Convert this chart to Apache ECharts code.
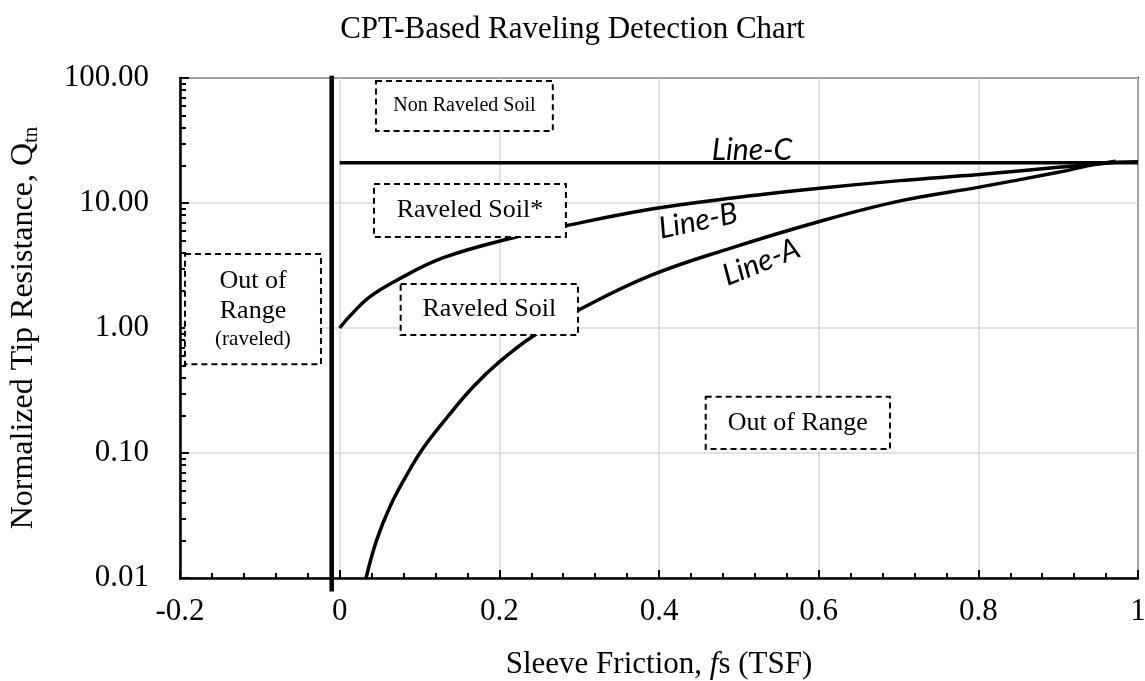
<!DOCTYPE html>
<html>
<head>
<meta charset="utf-8">
<script src="https://cdn.jsdelivr.net/npm/echarts@6/dist/echarts.min.js"></script>
<style>
  html, body { margin: 0; padding: 0; background: #ffffff; }
  #chart { width: 1145px; height: 681px; }
</style>
</head>
<body>
<div id="chart"></div>
<script>
// Boundary curves: [sleeve friction fs (TSF), normalized tip resistance Qtn]
const lineA = [
  [0.033, 0.010], [0.0463, 0.0201], [0.063, 0.0372], [0.084, 0.0667], [0.1047, 0.1096],
  [0.134, 0.1905], [0.167, 0.337], [0.200, 0.535], [0.2425, 0.863], [0.299, 1.39],
  [0.389, 2.62], [0.489, 4.34], [0.601, 7.12], [0.702, 10.4], [0.801, 13.4],
  [0.900, 17.6], [0.952, 20.6], [1.000, 21.4]
];
const lineB = [
  [0.000, 1.00], [0.013, 1.25], [0.038, 1.78], [0.072, 2.42], [0.130, 3.65],
  [0.222, 5.37], [0.282, 6.55], [0.389, 8.90], [0.489, 10.9], [0.601, 13.1],
  [0.702, 15.1], [0.801, 16.9], [0.900, 19.3], [0.950, 20.6], [0.972, 21.6]
];
const lineC = [[0.0, 21.0], [1.0, 21.0]];
// Vertical limit just left of fs = 0, running slightly past the frame
const fsLimit = [[-0.01, 0.0078], [-0.01, 104]];

// Axis ranges and tick labels
const xMin = -0.2, xMax = 1.0, xStep = 0.2;
const yMin = 0.01, yMax = 100;
const yMinorTicks = [];
[0.01, 0.1, 1, 10].forEach(d => { for (let k = 2; k <= 9; k++) yMinorTicks.push(+(d * k).toPrecision(3)); });

// Zone annotations: label text and the data box they sit in [x0, x1, y0, y1]
const zoneLabels = ['Non Raveled Soil', 'Raveled Soil*', 'Raveled Soil', 'Out of Range', 'Out of\nRange\n{s|(raveled)}'];
const zoneBoxes = [
  [0.0455, 0.267, 37.7, 94.6],
  [0.043, 0.2834, 5.35, 14.2],
  [0.0764, 0.2985, 0.879, 2.25],
  [0.4585, 0.6893, 0.1076, 0.282],
  [-0.1938, -0.0234, 0.512, 3.91]
];
const zoneFontSize = [20, 26, 26, 26, 26];
// Curve names: text, anchor [fs, Qtn], tilt in degrees
const curveLabels = ['Line-C', 'Line-B', 'Line-A'];
const curveLabelAnchors = [[0.5165, 26.5], [0.449, 7.18], [0.528, 3.37]];
const curveLabelTilt = [0, 12, 22];

const SERIF = '"Liberation Serif", "Times New Roman", serif';
const chart = echarts.init(document.getElementById('chart'));

const lineStyleOf = w => ({ color: '#000', width: w });

chart.setOption({
  animation: false,
  backgroundColor: '#fff',
  title: {
    text: 'CPT-Based Raveling Detection Chart',
    left: 'center',
    top: 9,
    textStyle: { fontFamily: SERIF, fontSize: 31, fontWeight: 'normal', color: '#000' }
  },
  grid: {
    left: 180, right: 7, top: 78, bottom: 103,
    outerBoundsMode: 'none', containLabel: false,
    show: true, borderColor: '#000', borderWidth: 2, backgroundColor: 'transparent'
  },
  xAxis: {
    type: 'value', min: xMin, max: xMax, interval: xStep,
    name: 'Sleeve Friction, {i|f}s (TSF)',
    nameLocation: 'middle', nameGap: 71,
    nameTextStyle: {
      fontFamily: SERIF, fontSize: 31, color: '#000',
      rich: { i: { fontFamily: SERIF, fontSize: 31, fontStyle: 'italic', color: '#000' } }
    },
    axisLine: { show: true, onZero: false, lineStyle: { color: '#000', width: 2.5 } },
    axisTick: { show: true, inside: true, length: 8, lineStyle: { color: '#000', width: 2 } },
    minorTick: { show: true, splitNumber: 5, length: 5, lineStyle: { color: '#000', width: 2 } },
    axisLabel: {
      margin: 18, fontFamily: SERIF, fontSize: 31, color: '#000',
      formatter: v => String(+v.toFixed(1))
    },
    splitLine: { show: true, lineStyle: { color: '#d9d9d9', width: 1.5 } }
  },
  yAxis: [{
    type: 'log', logBase: 10, min: yMin, max: yMax, interval: 1,
    name: '{q|Normalized Tip Resistance, Q}{s|tn}',
    nameLocation: 'middle', nameGap: 138,
    nameTextStyle: {
      color: '#000',
      rich: {
        q: { fontFamily: SERIF, fontSize: 32, color: '#000', lineHeight: 36 },
        s: { fontFamily: SERIF, fontSize: 21, color: '#000', lineHeight: 36, verticalAlign: 'bottom', padding: [12, 0, 0, 0] }
      }
    },
    axisLine: { show: true, onZero: false, lineStyle: { color: '#000', width: 2.5 } },
    axisTick: { show: true, inside: true, length: 9, lineStyle: { color: '#000', width: 2 } },
    axisLabel: {
      margin: 31, fontFamily: SERIF, fontSize: 31, color: '#000',
      formatter: v => Number(v).toFixed(2)
    },
    splitLine: { show: true, lineStyle: { color: '#d9d9d9', width: 1.5 } }
  }, {
    // carries the 2..9 minor ticks of each decade
    type: 'log', logBase: 10, min: yMin, max: yMax, position: 'left', offset: 0,
    axisLine: { show: false, onZero: false },
    axisTick: { show: true, inside: true, length: 6, customValues: yMinorTicks, lineStyle: { color: '#000', width: 2 } },
    axisLabel: { show: false },
    splitLine: { show: false }
  }],
  series: [
    { name: 'fs limit', type: 'line', data: fsLimit, showSymbol: false, clip: false, lineStyle: lineStyleOf(4.5), z: 3 },
    { name: 'Line-C', type: 'line', data: lineC, showSymbol: false, lineStyle: lineStyleOf(3.5), z: 3 },
    { name: 'Line-B', type: 'line', data: lineB, showSymbol: false, smooth: 0.4, lineStyle: lineStyleOf(3.5), z: 3 },
    { name: 'Line-A', type: 'line', data: lineA, showSymbol: false, smooth: 0.4, lineStyle: lineStyleOf(3.5), z: 3 }
  ]
});

// Dashed zone boxes and curve names placed in data coordinates
function placeAnnotations() {
  const toPx = p => chart.convertToPixel({ xAxisIndex: 0, yAxisIndex: 0 }, p);
  const elements = [];
  zoneBoxes.forEach((b, i) => {
    const p0 = toPx([b[0], b[3]]);
    const p1 = toPx([b[1], b[2]]);
    const w = p1[0] - p0[0], h = p1[1] - p0[1];
    elements.push({
      type: 'rect', z: 100,
      shape: { x: p0[0], y: p0[1], width: w, height: h },
      style: { fill: '#fff', stroke: '#000', lineWidth: 2, lineDash: [6, 4] }
    });
    elements.push({
      type: 'text', z: 101,
      x: p0[0] + w / 2, y: p0[1] + h / 2,
      style: {
        text: zoneLabels[i], fill: '#000', align: 'center', verticalAlign: 'middle',
        font: zoneFontSize[i] + 'px ' + SERIF, lineHeight: 30,
        rich: { s: { font: '21px ' + SERIF, fill: '#000', lineHeight: 26 } }
      }
    });
  });
  curveLabels.forEach((t, i) => {
    const p = toPx(curveLabelAnchors[i]);
    elements.push({
      type: 'text', z: 101,
      x: p[0], y: p[1], rotation: curveLabelTilt[i] * Math.PI / 180,
      style: { text: t, fill: '#000', align: 'center', verticalAlign: 'middle', font: 'italic 30px Lato, "Open Sans", sans-serif' }
    });
  });
  chart.setOption({ graphic: { elements } });
}
placeAnnotations();
</script>
</body>
</html>
